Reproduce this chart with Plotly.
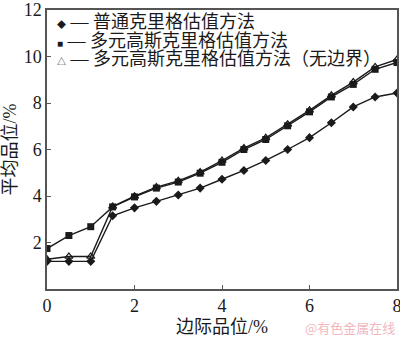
import plotly.graph_objects as go

x_vals = [0, 0.5, 1, 1.5, 2, 2.5, 3, 3.5, 4, 4.5, 5, 5.5, 6, 6.5, 7, 7.5, 8]
ordinary = [1.19, 1.19, 1.19, 3.15, 3.49, 3.77, 4.04, 4.34, 4.72, 5.1, 5.53, 6.0, 6.51, 7.15, 7.83, 8.26, 8.43]
multi = [1.74, 2.3, 2.68, 3.53, 3.96, 4.34, 4.6, 4.98, 5.45, 6.0, 6.43, 7.02, 7.62, 8.26, 8.8, 9.45, 9.74]
multi_nb = [1.28, 1.4, 1.4, 3.55, 3.99, 4.38, 4.65, 5.03, 5.52, 6.06, 6.5, 7.08, 7.68, 8.33, 8.9, 9.55, 9.87]
names = ["普通克里格估值方法", "多元高斯克里格估值方法", "多元高斯克里格估值方法（无边界）"]
x_ticks = [0, 2, 4, 6, 8]
y_ticks = [2, 4, 6, 8, 10, 12]

SERIF = "Liberation Serif, Noto Sans CJK SC, serif"
INK = "#1a1a1a"
TOP, BOTTOM = 10, 289

fig = go.Figure()
fig.add_trace(go.Scatter(x=x_vals, y=multi, mode="lines+markers", name=names[1],
                         line=dict(color=INK, width=1.4),
                         marker=dict(symbol="square", size=7, color=INK), showlegend=False))
fig.add_trace(go.Scatter(x=x_vals, y=multi_nb, mode="lines+markers", name=names[2],
                         line=dict(color=INK, width=1.4),
                         marker=dict(symbol="triangle-up-open", size=7, color=INK, line=dict(width=1.3)),
                         showlegend=False))
fig.add_trace(go.Scatter(x=x_vals, y=ordinary, mode="lines+markers", name=names[0],
                         line=dict(color=INK, width=1.4),
                         marker=dict(symbol="diamond", size=7, color=INK), showlegend=False))

symbols = ["◆", "■", "△"]
sym_sizes = [9, 10, 9]
leg_y = [22, 41, 59]
H = BOTTOM - TOP
for s, sz, n, yy in zip(symbols, sym_sizes, names, leg_y):
    fig.add_annotation(xref="paper", yref="paper", x=(55 - 47) / 350, y=1 - (yy - TOP) / H,
                       xanchor="left", yanchor="middle", showarrow=False,
                       text=f"<span style='font-size:{sz}px'>{s}</span> — {n}",
                       font=dict(family=SERIF, size=18, color=INK))

fig.add_annotation(xref="paper", yref="paper", x=1.0, y=-(328 - BOTTOM) / H, xanchor="right",
                   yanchor="middle", showarrow=False, text="@有色金属在线",
                   font=dict(family="Noto Sans CJK SC", size=13, color="#f0b8be"))

axis_common = dict(showline=True, linecolor="#555", linewidth=1.5, mirror=True,
                   ticks="inside", ticklen=4, tickcolor="#555", showgrid=False, zeroline=False,
                   tickfont=dict(family=SERIF, size=18, color=INK), automargin=False,
                   ticklabeloverflow="allow")
fig.update_xaxes(range=[0, 8], tickvals=x_ticks, ticktext=[str(v) for v in x_ticks],
                 title=dict(text="边际品位/%", font=dict(family=SERIF, size=18, color=INK), standoff=7),
                 **axis_common)
fig.update_yaxes(range=[0, 12], tickvals=[0] + y_ticks, ticktext=[""] + [str(v) for v in y_ticks],
                 title=dict(text="平均品位/%", font=dict(family=SERIF, size=18, color=INK), standoff=6),
                 **axis_common)

fig.update_layout(width=400, height=337, margin=dict(l=47, r=3, t=TOP, b=337 - BOTTOM),
                  plot_bgcolor="white", paper_bgcolor="white", showlegend=False)
fig.write_html("out.html")
